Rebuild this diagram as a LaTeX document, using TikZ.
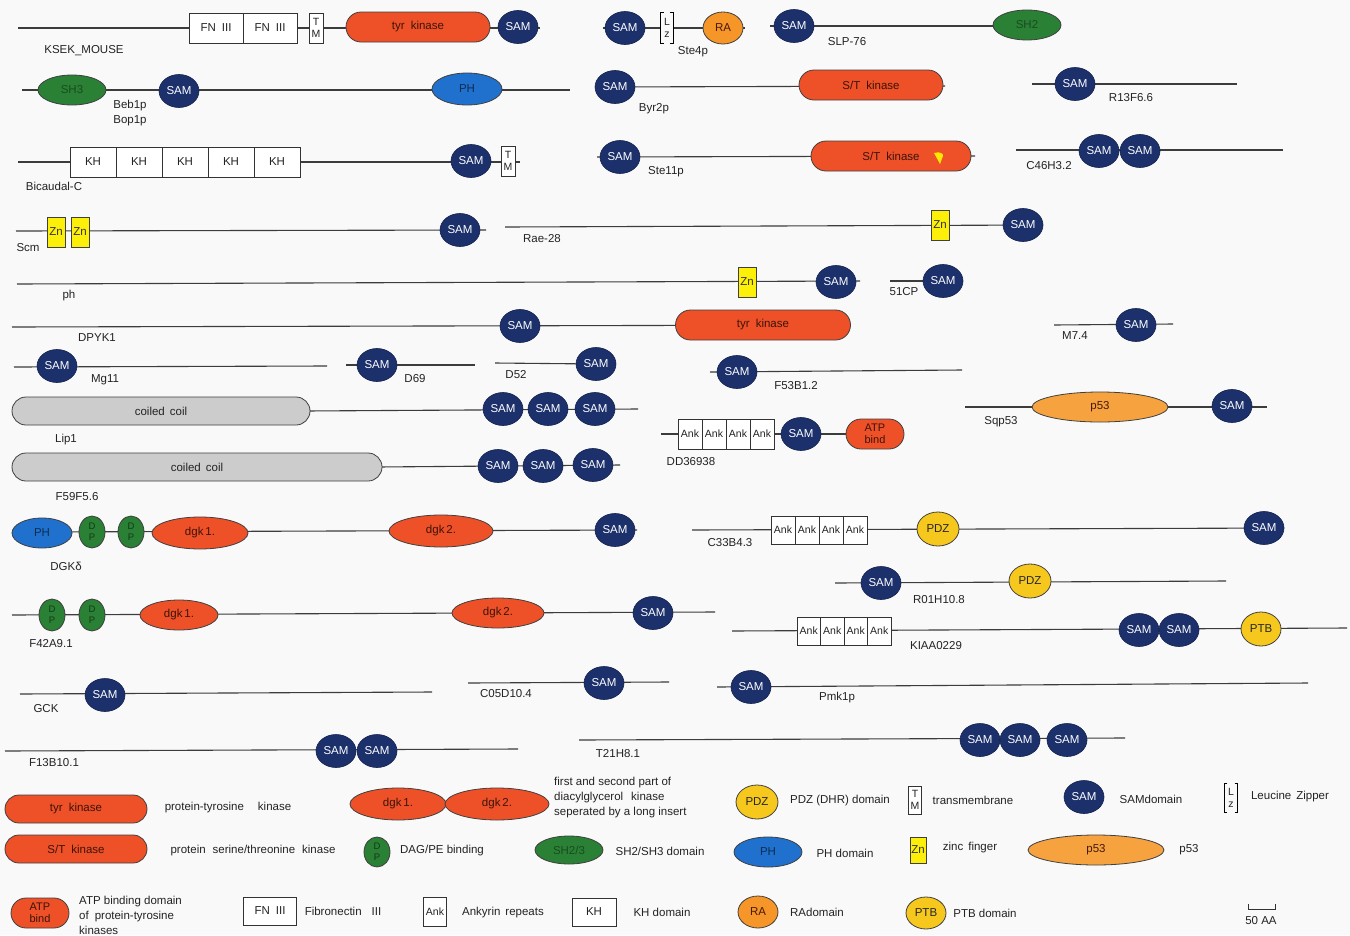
\documentclass[tikz,border=0pt]{standalone}
\usepackage{fontspec}
\setmainfont{Liberation Sans}
\usetikzlibrary{shapes.geometric,shapes.misc}
\definecolor{bgc}{RGB}{249,249,249}
\definecolor{samc}{RGB}{28,48,108}
\definecolor{kinc}{RGB}{238,80,40}
\definecolor{grnc}{RGB}{42,128,52}
\definecolor{phc}{RGB}{32,112,205}
\definecolor{pdzc}{RGB}{246,200,30}
\definecolor{rac}{RGB}{246,150,40}
\definecolor{p53c}{RGB}{246,162,62}
\definecolor{znc}{RGB}{252,240,10}
\definecolor{coilc}{RGB}{204,204,204}
\definecolor{linec}{RGB}{60,60,60}
\definecolor{txtc}{RGB}{35,35,35}
\newcommand\bbone[3]{\coordinate (#1a) at #2; \coordinate (#1b) at #3; \draw[bbline] (#1a) -- (#1b);}
\tikzset{
  every node/.style={font=\fontsize{11.5}{12}\selectfont, text=txtc},
  bbline/.style={draw=linec, line width=1.1pt},
  samd/.style={ellipse, fill=samc, draw=samc!70!black, line width=0.6pt, text=white, minimum width=40, minimum height=33, inner sep=0pt},
  kin/.style={rounded rectangle, fill=kinc, draw=black!75, line width=0.8pt, text=kinc!25!black, minimum height=30, inner sep=0pt},
  dgkd/.style={ellipse, fill=kinc, draw=black!75, line width=0.8pt, text=kinc!25!black, minimum height=32, inner sep=0pt},
  grnd/.style={ellipse, fill=grnc, draw=black!75, line width=0.8pt, text=grnc!60!black, minimum width=68, minimum height=30, inner sep=0pt},
  dpd/.style={ellipse, fill=grnc, draw=black!75, line width=0.8pt, text=grnc!45!black, minimum width=26, minimum height=32, inner sep=0pt, align=center, font=\fontsize{9.5}{11}\selectfont},
  phd/.style={ellipse, fill=phc, draw=black!75, line width=0.8pt, text=phc!40!black, minimum width=68, minimum height=32, inner sep=0pt},
  pdzd/.style={ellipse, fill=pdzc, draw=black!75, line width=0.8pt, text=black!85, minimum width=42, minimum height=34, inner sep=0pt},
  rad/.style={ellipse, fill=rac, draw=black!75, line width=0.8pt, text=kinc!30!black, minimum width=40, minimum height=32, inner sep=0pt},
  p53d/.style={ellipse, fill=p53c, draw=black!75, line width=0.8pt, text=kinc!30!black, minimum width=136, minimum height=30, inner sep=0pt},
  znd/.style={rectangle, fill=znc, draw=black!75, line width=0.8pt, text=black!80, minimum width=18, minimum height=30, inner sep=0pt},
  boxd/.style={rectangle, fill=white, draw=black!80, line width=0.8pt, minimum height=30, inner sep=0pt, outer sep=0pt},
  ankd/.style={boxd, minimum width=24, font=\fontsize{10.5}{11}\selectfont},
  tmd/.style={rectangle, fill=white, draw=black!80, line width=0.8pt, minimum width=14, minimum height=30, inner sep=0pt, align=center, font=\fontsize{10.5}{12}\selectfont},
  lzd/.style={rectangle, fill=bgc, minimum width=12, minimum height=30, inner sep=0pt, align=center, font=\fontsize{10.5}{12}\selectfont},
  coil/.style={rounded rectangle, fill=coilc, draw=black!75, line width=0.8pt, minimum height=28, inner sep=0pt},
  lbl/.style={inner sep=0pt},
}
\begin{document}
\begin{tikzpicture}[x=1pt,y=-1pt]
\fill[bgc] (0,0) rectangle (1350,935);
\useasboundingbox (0,0) rectangle (1350,935);

% ---- KSEK_MOUSE
\bbone{k}{(18,28)}{(540,28)}
\node[boxd, minimum width=54] (kfn1) at (216,28) {FN\hspace{6pt}III};
\node[boxd, minimum width=54] (kfn2) at (270,28) {FN\hspace{6pt}III};
\node[tmd] (ktm) at (316,28) {T\\M};
\node[kin, minimum width=144] (ktyr) at (418,27) {tyr\hspace{6pt}kinase};
\node[samd] (ksam) at (518,27) {SAM};
\node[lbl] (klab) at (84,51) {KSEK\_MOUSE};

% ---- Ste4p
\bbone{s4}{(603,28)}{(745,28)}
\node[samd] (s4sam) at (625,28) {SAM};
\node[lzd] (s4lz) at (667,28) {L\\z};
\draw[line width=0.8pt] ([xshift=3pt]s4lz.north west) -- (s4lz.north west) -- (s4lz.south west) -- ([xshift=3pt]s4lz.south west);
\draw[line width=0.8pt] ([xshift=-3pt]s4lz.north east) -- (s4lz.north east) -- (s4lz.south east) -- ([xshift=-3pt]s4lz.south east);
\node[rad] (s4ra) at (723,28) {RA};
\node[lbl] (s4lab) at (693,52) {Ste4p};

% ---- SLP-76
\bbone{sl}{(770,26)}{(1000,26)}
\node[samd] (slsam) at (794,26) {SAM};
\node[grnd] (slsh) at (1027,25) {SH2};
\node[lbl] (sllab) at (847,42) {SLP-76};

% ---- Beb1p / Bop1p
\bbone{bb}{(22,90)}{(570,90)}
\node[grnd] (bbsh) at (72,90) {SH3};
\node[samd] (bbsam) at (179,91) {SAM};
\node[phd, minimum width=70] (bbph) at (467,89) {PH};
\node[lbl] (bblab1) at (130,106) {Beb1p};
\node[lbl] (bblab2) at (130,121) {Bop1p};

% ---- Byr2p
\bbone{by}{(600,87)}{(945,86)}
\node[samd] (bysam) at (615,87) {SAM};
\node[kin, minimum width=144] (byst) at (871,85) {S/T\hspace{6pt}kinase};
\node[lbl] (bylab) at (654,109) {Byr2p};

% ---- R13F6.6
\bbone{r13}{(1032,84)}{(1237,84)}
\node[samd] (r13sam) at (1075,84) {SAM};
\node[lbl] (r13lab) at (1131,98) {R13F6.6};

% ---- Bicaudal-C
\bbone{bc}{(18,162)}{(520,162)}
\node[boxd, minimum width=46] (bckh1) at (93,162) {KH};
\node[boxd, minimum width=46] (bckh2) at (139,162) {KH};
\node[boxd, minimum width=46] (bckh3) at (185,162) {KH};
\node[boxd, minimum width=46] (bckh4) at (231,162) {KH};
\node[boxd, minimum width=46] (bckh5) at (277,162) {KH};
\node[samd] (bcsam) at (471,161) {SAM};
\node[tmd] (bctm) at (508,161) {T\\M};
\node[lbl] (bclab) at (54,186) {Bicaudal-C};

% ---- Ste11p
\bbone{s11}{(597,157)}{(975,156)}
\node[samd] (s11sam) at (620,157) {SAM};
\node[kin, minimum width=160] (s11st) at (891,156) {S/T\hspace{6pt}kinase\hspace{22pt}};
\fill[yellow!90!orange] (934,153) .. controls (940,151) and (944,154) .. (943,156) -- (940,164) -- cycle;
\node[lbl] (s11lab) at (666,172) {Ste11p};

% ---- C46H3.2
\bbone{c46}{(1016,150)}{(1283,150)}
\node[samd] (c46s1) at (1099,151) {SAM};
\node[samd] (c46s2) at (1140,151) {SAM};
\node[lbl] (c46lab) at (1049,166) {C46H3.2};

% ---- Scm
\bbone{sc}{(16,231)}{(486,230)}
\node[znd] (sczn1) at (56,232) {Zn};
\node[znd] (sczn2) at (80,232) {Zn};
\node[samd] (scsam) at (460,230) {SAM};
\node[lbl] (sclab) at (28,248) {Scm};

% ---- Rae-28
\bbone{ra}{(505,227)}{(1040,225)}
\node[znd] (razn) at (940,225) {Zn};
\node[samd] (rasam) at (1023,225) {SAM};
\node[lbl] (ralab) at (542,239) {Rae-28};

% ---- ph
\bbone{ph}{(17,284)}{(860,281)}
\node[znd] (phzn) at (747,282) {Zn};
\node[samd] (phsam) at (836,282) {SAM};
\node[lbl] (phlab) at (69,296) {ph};

% ---- 51CP
\bbone{cp}{(890,281)}{(943,281)}
\node[samd] (cpsam) at (943,281) {SAM};
\node[lbl] (cplab) at (904,292) {51CP};

% ---- DPYK1
\bbone{dp}{(12,327)}{(850,325)}
\node[samd] (dpsam) at (520,326) {SAM};
\node[kin, minimum width=175] (dptyr) at (763,325) {tyr\hspace{6pt}kinase};
\node[lbl] (dplab) at (97,338) {DPYK1};

% ---- M7.4
\bbone{m7}{(1054,325)}{(1173,324)}
\node[samd] (m7sam) at (1136,325) {SAM};
\node[lbl] (m7lab) at (1075,336) {M7.4};

% ---- Mg11, D69, D52, F53B1.2
\bbone{mg}{(14,367)}{(327,366)}
\node[samd] (mgsam) at (57,366) {SAM};
\node[lbl] (mglab) at (105,380) {Mg11};
\bbone{d69}{(346,365)}{(475,365)}
\node[samd] (d69sam) at (377,365) {SAM};
\node[lbl] (d69lab) at (415,379) {D69};
\bbone{d52}{(495,363)}{(596,364)}
\node[samd] (d52sam) at (596,364) {SAM};
\node[lbl] (d52lab) at (516,375) {D52};
\bbone{f53}{(710,372)}{(962,370)}
\node[samd] (f53sam) at (737,372) {SAM};
\node[lbl] (f53lab) at (796,386) {F53B1.2};

% ---- Lip1
\bbone{lp}{(305,411)}{(638,409)}
\node[coil, minimum width=298] (lpcc) at (161,411) {coiled\hspace{5pt}coil};
\node[samd] (lps1) at (503,409) {SAM};
\node[samd] (lps2) at (548,409) {SAM};
\node[samd] (lps3) at (595,409) {SAM};
\node[lbl] (lplab) at (66,440) {Lip1};

% ---- DD36938
\bbone{dd}{(661,434)}{(850,434)}
\node[ankd] (dda1) at (690,434) {Ank};
\node[ankd] (dda2) at (714,434) {Ank};
\node[ankd] (dda3) at (738,434) {Ank};
\node[ankd] (dda4) at (762,434) {Ank};
\node[samd] (ddsam) at (801,434) {SAM};
\node[kin, minimum width=58, align=center, font=\fontsize{11}{12.5}\selectfont] (ddatp) at (875,434) {ATP\\bind};
\node[lbl] (ddlab) at (691,462) {DD36938};

% ---- Sqp53
\bbone{sq}{(965,407)}{(1267,407)}
\node[p53d] (sqp53) at (1100,407) {p53};
\node[samd] (sqsam) at (1232,406) {SAM};
\node[lbl] (sqlab) at (1001,422) {Sqp53};

% ---- F59F5.6
\bbone{f59}{(378,467)}{(620,465)}
\node[coil, minimum width=370] (f59cc) at (197,467) {coiled\hspace{5pt}coil};
\node[samd] (f59s1) at (498,466) {SAM};
\node[samd] (f59s2) at (543,466) {SAM};
\node[samd] (f59s3) at (593,465) {SAM};
\node[lbl] (f59lab) at (77,497) {F59F5.6};

% ---- DGK delta
\bbone{dg}{(40,532)}{(637,530)}
\node[phd, minimum width=60, minimum height=30] (dgph) at (42,533) {PH};
\node[dpd] (dgdp1) at (92,532) {D\\P};
\node[dpd] (dgdp2) at (131,532) {D\\P};
\node[dgkd, minimum width=96] (dgk1) at (200,533) {dgk\,1.};
\node[dgkd, minimum width=104] (dgk2) at (441,531) {dgk\,2.};
\node[samd] (dgsam) at (615,530) {SAM};
\node[lbl] (dglab) at (66,566) {DGKδ};

% ---- C33B4.3
\bbone{c33}{(692,530)}{(1284,528)}
\node[ankd, minimum height=28] (c33a1) at (783,530) {Ank};
\node[ankd, minimum height=28] (c33a2) at (807,530) {Ank};
\node[ankd, minimum height=28] (c33a3) at (831,530) {Ank};
\node[ankd, minimum height=28] (c33a4) at (855,530) {Ank};
\node[pdzd] (c33pdz) at (938,529) {PDZ};
\node[samd] (c33sam) at (1264,528) {SAM};
\node[lbl] (c33lab) at (730,543) {C33B4.3};

% ---- R01H10.8
\bbone{r01}{(835,583)}{(1226,581)}
\node[samd] (r01sam) at (881,583) {SAM};
\node[pdzd] (r01pdz) at (1030,581) {PDZ};
\node[lbl] (r01lab) at (939,600) {R01H10.8};

% ---- F42A9.1
\bbone{f42}{(12,615)}{(715,612)}
\node[dpd] (f42dp1) at (52,615) {D\\P};
\node[dpd] (f42dp2) at (92,615) {D\\P};
\node[dgkd, minimum width=78, minimum height=30] (f42k1) at (179,615) {dgk\,1.};
\node[dgkd, minimum width=92, minimum height=30] (f42k2) at (498,613) {dgk\,2.};
\node[samd] (f42sam) at (653,613) {SAM};
\node[lbl] (f42lab) at (51,644) {F42A9.1};

% ---- KIAA0229
\bbone{ki}{(732,631)}{(1347,628)}
\node[ankd, minimum width=23.5, minimum height=28] (kia1) at (808.75,631) {Ank};
\node[ankd, minimum width=23.5, minimum height=28] (kia2) at (832.25,631) {Ank};
\node[ankd, minimum width=23.5, minimum height=28] (kia3) at (855.75,631) {Ank};
\node[ankd, minimum width=23.5, minimum height=28] (kia4) at (879.25,631) {Ank};
\node[samd] (kis1) at (1139,630) {SAM};
\node[samd] (kis2) at (1179,630) {SAM};
\node[pdzd, minimum width=40] (kiptb) at (1261,629) {PTB};
\node[lbl] (kilab) at (936,646) {KIAA0229};

% ---- GCK, C05D10.4, Pmk1p
\bbone{gc}{(20,694)}{(432,692)}
\node[samd] (gcsam) at (105,695) {SAM};
\node[lbl] (gclab) at (46,709) {GCK};
\bbone{c05}{(468,683)}{(669,682)}
\node[samd] (c05sam) at (604,683) {SAM};
\node[lbl] (c05lab) at (506,694) {C05D10.4};
\bbone{pm}{(717,687)}{(1308,683)}
\node[samd] (pmsam) at (751,687) {SAM};
\node[lbl] (pmlab) at (837,698) {Pmk1p};

% ---- F13B10.1, T21H8.1
\bbone{f13}{(5,751)}{(518,749)}
\node[samd] (f13s1) at (336,751) {SAM};
\node[samd] (f13s2) at (377,751) {SAM};
\node[lbl] (f13lab) at (54,763) {F13B10.1};
\bbone{t21}{(579,740)}{(1125,738)}
\node[samd] (t21s1) at (980,740) {SAM};
\node[samd] (t21s2) at (1020,740) {SAM};
\node[samd] (t21s3) at (1067,740) {SAM};
\node[lbl] (t21lab) at (618,754) {T21H8.1};

% ================= Legend
\node[kin, minimum width=142, minimum height=28] (lgtyr) at (76,809) {tyr\hspace{6pt}kinase};
\node[lbl] (lgtyrt) at (228,808) {protein-tyrosine\hspace{14pt}kinase};
\node[dgkd, minimum width=96] (lgk1) at (398,804) {dgk\,1.};
\node[dgkd, minimum width=104] (lgk2) at (497,804) {dgk\,2.};
\node[lbl, anchor=west, align=left, font=\fontsize{11.5}{15}\selectfont] (lgkt) at (554,798) {first and second part of\\diacylglycerol\hspace{8pt}kinase\\seperated by a long insert};
\node[pdzd] (lgpdz) at (757,802) {PDZ};
\node[lbl] (lgpdzt) at (840,801) {PDZ (DHR) domain};
\node[tmd, minimum width=13, minimum height=28] (lgtm) at (915,800) {T\\M};
\node[lbl] (lgtmt) at (973,800) {transmembrane};
\node[samd] (lgsam) at (1084,797) {SAM};
\node[lbl] (lgsamt) at (1151,799) {SAMdomain};
\node[lzd, minimum width=13, minimum height=28] (lglz) at (1231,798) {L\\z};
\draw[line width=0.8pt] ([xshift=3pt]lglz.north west) -- (lglz.north west) -- (lglz.south west) -- ([xshift=3pt]lglz.south west);
\draw[line width=0.8pt] ([xshift=-3pt]lglz.north east) -- (lglz.north east) -- (lglz.south east) -- ([xshift=-3pt]lglz.south east);
\node[lbl] (lglzt) at (1290,797) {Leucine\hspace{5pt}Zipper};

\node[kin, minimum width=142, minimum height=28] (lgst) at (76,849) {S/T\hspace{6pt}kinase};
\node[lbl] (lgstt) at (253,851) {protein\hspace{7pt}serine/threonine\hspace{7pt}kinase};
\node[dpd, minimum height=30] (lgdp) at (377,852) {D\\P};
\node[lbl] (lgdpt) at (442,851) {DAG/PE binding};
\node[grnd, minimum height=28] (lgsh) at (569,850) {SH2/3};
\node[lbl] (lgsht) at (660,851) {SH2/SH3 domain};
\node[phd, minimum height=30] (lgph) at (768,852) {PH};
\node[lbl] (lgpht) at (845,853) {PH domain};
\node[znd, minimum width=16, minimum height=26] (lgzn) at (918,850) {Zn};
\node[lbl] (lgznt) at (970,848) {zinc\hspace{5pt}finger};
\node[p53d] (lgp53) at (1096,850) {p53};
\node[lbl] (lgp53t) at (1189,850) {p53};

\node[kin, minimum width=58, align=center, font=\fontsize{11}{12.5}\selectfont] (lgatp) at (40,913) {ATP\\bind};
\node[lbl, anchor=west, align=left, font=\fontsize{11.5}{15}\selectfont] (lgatpt) at (79,915) {ATP binding domain\\of\hspace{6pt}protein-tyrosine\\kinases};
\node[boxd, minimum width=53, minimum height=28] (lgfn) at (270,911) {FN\hspace{6pt}III};
\node[lbl] (lgfnt) at (343,911) {Fibronectin\hspace{10pt}III};
\node[ankd, minimum width=23, minimum height=29] (lgank) at (435,912) {Ank};
\node[lbl] (lgankt) at (503,913) {Ankyrin\hspace{5pt}repeats};
\node[boxd, minimum width=44, minimum height=28] (lgkh) at (594,912) {KH};
\node[lbl] (lgkht) at (662,912) {KH domain};
\node[rad] (lgra) at (758,912) {RA};
\node[lbl] (lgrat) at (817,912) {RAdomain};
\node[pdzd, minimum width=40, minimum height=32] (lgptb) at (926,913) {PTB};
\node[lbl] (lgptbt) at (985,913) {PTB domain};

\coordinate (scA) at (1248,904);
\coordinate (scB) at (1275,904);
\draw[line width=1pt, draw=black!80] (scA) -- ++(0,5) -| (scB);
\node[lbl] (sclab50) at (1261,921) {50 AA};
\end{tikzpicture}
\end{document}
